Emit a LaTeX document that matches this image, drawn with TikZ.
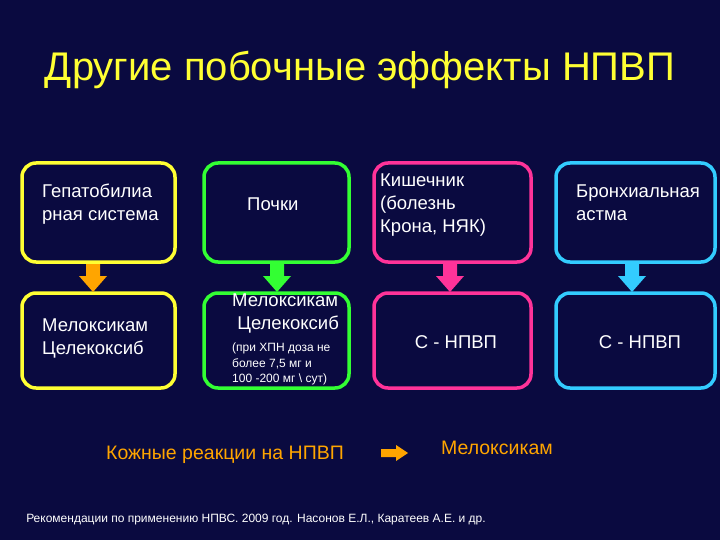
\documentclass[tikz,border=0pt]{standalone}
\usepackage{fontspec}
\setmainfont{Liberation Sans}
\definecolor{bgc}{HTML}{0A0A40}
\definecolor{colY}{HTML}{FFFF33}
\definecolor{colG}{HTML}{33FF33}
\definecolor{colM}{HTML}{FF3399}
\definecolor{colC}{HTML}{33CCFF}
\definecolor{colO}{HTML}{FFA500}
\begin{document}
\begin{tikzpicture}[x=1pt,y=-1pt,
 bx/.style={draw=#1,line width=3.5pt,rounded corners=14pt},
 tx/.style={text=white,font=\fontsize{18.5}{23}\selectfont,align=left,inner sep=0pt}]
\fill[bgc] (0,0) rectangle (720,540);
\useasboundingbox (0,0) rectangle (720,540);
\node[text=colY,font=\fontsize{40}{46}\selectfont] (title) at (360,70) {Другие побочные эффекты НПВП};
\draw[bx=colY] (22,163) rectangle (175,262);
\draw[bx=colG] (204,163) rectangle (349,262);
\draw[bx=colM] (374,163) rectangle (531,262);
\draw[bx=colC] (556,163) rectangle (715,262);
\draw[bx=colY] (22,293) rectangle (175,388);
\draw[bx=colG] (204,293) rectangle (349,388);
\draw[bx=colM] (374,293) rectangle (531,388);
\draw[bx=colC] (556,293) rectangle (715,388);
\node[tx,anchor=west] (t1) at (42,204) {Гепатобилиа\\рная система};
\node[tx,anchor=west] (t2) at (247,204) {Почки};
\node[tx,anchor=west] (t3) at (380,205) {Кишечник\\(болезнь\\Крона, НЯК)};
\node[tx,anchor=west] (t4) at (576,203) {Бронхиальная\\астма};
\node[tx,anchor=west] (b1) at (42,338) {Мелоксикам\\Целекоксиб};
\node[tx,anchor=west] (b2a) at (232,313) {Мелоксикам\\\ Целекоксиб};
\node[tx,font=\fontsize{12}{15.5}\selectfont,anchor=west] (b2b) at (232,364) {(при ХПН доза не\\более 7,5 мг и\\100 -200 мг \textbackslash\ сут)};
\node[tx] (b3) at (456,342) {С - НПВП};
\node[tx] (b4) at (640,342) {С - НПВП};
\foreach \x/\c in {93/colO,277/colG,450/colM,632/colC}{
 \fill[color=\c] (\x-7,264) -- (\x+7,264) -- (\x+7,276) -- (\x+14,276) -- (\x,292) -- (\x-14,276) -- (\x-7,276) -- cycle;}
\node[text=colO,font=\fontsize{19.5}{23}\selectfont] (k) at (225,455) {Кожные реакции на НПВП};
\node[text=colO,font=\fontsize{19.5}{23}\selectfont] (m) at (497,448) {Мелоксикам};
\fill[colO] (381,449) -- (396,449) -- (396,445) -- (408,453) -- (396,461) -- (396,457) -- (381,457) -- cycle;
\node[text=white,font=\fontsize{12}{14}\selectfont] (f) at (256,520) {Рекомендации по применению НПВС. 2009 год. Насонов Е.Л., Каратеев А.Е. и др.};
\end{tikzpicture}
\end{document}
